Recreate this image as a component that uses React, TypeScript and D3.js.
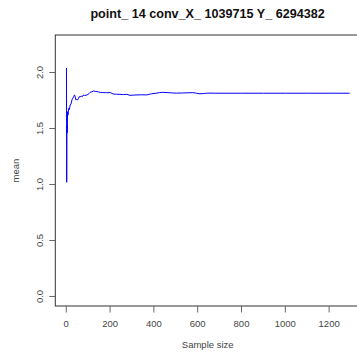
import React from "react";
import * as d3 from "d3";

const title = "point_ 14 conv_X_ 1039715 Y_ 6294382";
const xLabel = "Sample size";
const yLabel = "mean";
const xTicks = [0, 200, 400, 600, 800, 1000, 1200];
const yTicks = [0, 0.5, 1.0, 1.5, 2.0];

const sampleSizes = [1, 2, 3, 4, 5, 6, 8, 11, 14, 18, 22, 26, 30, 34, 38, 41, 44, 48, 52, 56, 59, 63, 68, 72, 76, 79, 84, 90, 95, 99, 104, 109, 117, 125, 132, 140, 148, 155, 165, 178, 190, 201, 214, 230, 245, 262, 277, 291, 305, 323, 345, 368, 380, 390, 410, 425, 441, 460, 480, 504, 530, 555, 578, 595, 610, 625, 640, 656, 680, 720, 800, 900, 1000, 1100, 1200, 1294];
const means = [2.04, 1.02, 1.53, 1.46, 1.50, 1.65, 1.62, 1.68, 1.67, 1.71, 1.72, 1.755, 1.77, 1.785, 1.80, 1.78, 1.755, 1.76, 1.755, 1.77, 1.785, 1.78, 1.79, 1.785, 1.79, 1.80, 1.795, 1.797, 1.80, 1.805, 1.812, 1.823, 1.828, 1.835, 1.832, 1.83, 1.826, 1.823, 1.821, 1.82, 1.82, 1.821, 1.808, 1.806, 1.805, 1.803, 1.805, 1.796, 1.798, 1.80, 1.801, 1.80, 1.806, 1.81, 1.815, 1.82, 1.823, 1.821, 1.818, 1.816, 1.817, 1.819, 1.82, 1.815, 1.81, 1.812, 1.815, 1.816, 1.815, 1.815, 1.815, 1.815, 1.815, 1.815, 1.815, 1.815];

export default function App() {
  const W = 357, H = 359;
  const left = 55.3, right = 362, top = 35, bottom = 306;
  const x = d3.scaleLinear().domain([-50, 1350]).range([left, right]);
  const y = d3.scaleLinear().domain([-0.085, 2.335]).range([bottom, top]);
  const data = sampleSizes.map((s, i) => [s, means[i]] as [number, number]);
  const line = d3.line<[number, number]>().x(d => x(d[0])).y(d => y(d[1]));
  const font = "'Liberation Sans', Arial, sans-serif";
  const axisCol = "#333";
  const textCol = "#444";
  return (
    <svg width={W} height={H} style={{ position: "absolute", left: 0, top: 0, background: "#fff" }}>
      <rect x={0} y={0} width={W} height={H} fill="#fff" />
      <text x={207.6} y={18.3} textAnchor="middle" fontFamily={font} fontWeight="bold" fontSize={12.6} fill="#111">{title}</text>
      <path d={line(data) || ""} fill="none" stroke="#0000ff" strokeWidth={1} />
      <rect x={left} y={top} width={right - left} height={bottom - top} fill="none" stroke={axisCol} strokeWidth={1} />
      {xTicks.map(t => (
        <g key={"x" + t}>
          <line x1={x(t)} x2={x(t)} y1={bottom} y2={bottom + 6.5} stroke="#666" strokeWidth={1} />
          <text x={x(t)} y={326.7} textAnchor="middle" fontFamily={font} fontSize={9.5} fill={textCol}>{String(t)}</text>
        </g>
      ))}
      {yTicks.map(t => (
        <g key={"y" + t}>
          <line x1={left} x2={left - 6} y1={y(t)} y2={y(t)} stroke="#666" strokeWidth={1} />
          <text transform={`translate(42.6,${y(t)}) rotate(-90)`} textAnchor="middle" fontFamily={font} fontSize={9.5} fill={textCol}>{t.toFixed(1)}</text>
        </g>
      ))}
      <text x={207.7} y={348} textAnchor="middle" fontFamily={font} fontSize={9.5} fill={textCol}>{xLabel}</text>
      <text transform={`translate(19.3,170.5) rotate(-90)`} textAnchor="middle" fontFamily={font} fontSize={9.5} fill={textCol}>{yLabel}</text>
    </svg>
  );
}
